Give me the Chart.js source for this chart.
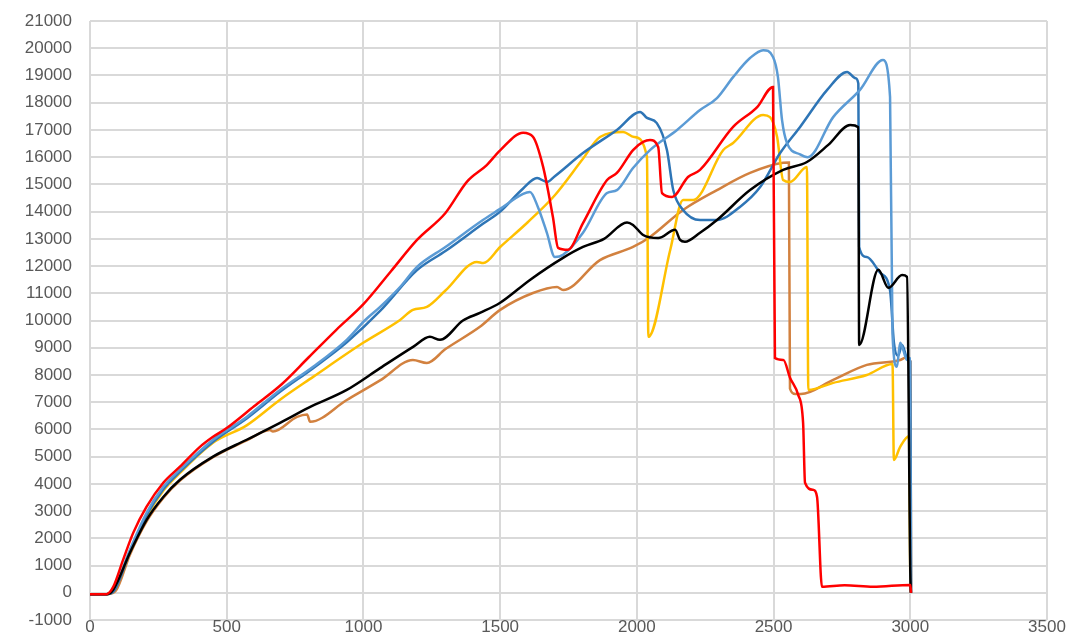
<!DOCTYPE html>
<html>
<head>
<meta charset="utf-8">
<script src="https://cdn.jsdelivr.net/npm/chart.js@4.4.1/dist/chart.umd.min.js"></script>
<style>
  body { margin: 0; background: #fff; }
  #wrap { width: 1075px; height: 639px; }
</style>
</head>
<body>
<div id="wrap"><canvas id="myChart" width="1075" height="639"></canvas></div>
<script>
// axis ticks
const xTicks = [0, 500, 1000, 1500, 2000, 2500, 3000, 3500];
const yMin = -1000, yMax = 21000, yStep = 1000;

// red series
const redX = [0, 60, 85, 121, 158, 207, 268, 329, 402, 450, 500, 600, 700, 800, 900, 1000, 1100, 1196, 1300, 1379, 1450, 1500, 1584, 1620, 1657, 1693, 1712, 1748, 1803, 1891, 1927, 1986, 2023, 2048, 2078, 2092, 2129, 2187, 2231, 2352, 2440, 2498, 2505, 2536, 2560, 2590, 2608, 2615, 2645, 2659, 2677, 2760, 2864, 3000, 3003];
const redY = [-50, -50, 220, 1210, 2200, 3160, 4040, 4630, 5360, 5730, 6050, 6850, 7650, 8650, 9650, 10600, 11800, 12960, 13950, 15100, 15700, 16250, 16900, 16750, 15650, 13800, 12670, 12600, 13580, 15160, 15420, 16260, 16560, 16630, 16370, 14680, 14540, 15270, 15530, 17110, 17840, 18580, 8620, 8550, 7900, 7270, 6240, 4040, 3780, 3520, 220, 280, 220, 290, 0];

// black series
const blackX = [0, 62, 85, 146, 207, 268, 329, 450, 573, 695, 800, 939, 1061, 1183, 1243, 1280, 1364, 1426, 1500, 1609, 1730, 1803, 1880, 1964, 1986, 2023, 2078, 2140, 2158, 2176, 2231, 2293, 2414, 2535, 2622, 2700, 2780, 2810, 2813, 2883, 2920, 2970, 2988, 3000, 3002];
const blackY = [-50, -50, 110, 1470, 2680, 3520, 4150, 5000, 5620, 6240, 6800, 7450, 8250, 9040, 9400, 9290, 10000, 10280, 10650, 11490, 12300, 12700, 13000, 13600, 13510, 13140, 13030, 13330, 12960, 12890, 13220, 13690, 14790, 15530, 15820, 16450, 17180, 17100, 9100, 11860, 11200, 11670, 11600, 800, 0];

// orange series
const orangeX = [0, 65, 95, 146, 207, 268, 329, 450, 573, 658, 669, 757, 794, 805, 939, 1061, 1181, 1232, 1300, 1426, 1500, 1620, 1708, 1730, 1865, 1986, 2048, 2169, 2293, 2414, 2535, 2556, 2560, 2580, 2600, 2718, 2841, 2963, 2988, 3000, 3003];
const orangeY = [-50, -50, 80, 1400, 2620, 3480, 4120, 4980, 5600, 5980, 5920, 6460, 6550, 6280, 7080, 7800, 8550, 8440, 8950, 9770, 10390, 11010, 11230, 11120, 12220, 12700, 13070, 14060, 14790, 15420, 15790, 15800, 7500, 7300, 7300, 7820, 8370, 8550, 8660, 8500, 0];

// yellow series
const yellowX = [0, 62, 90, 146, 207, 268, 329, 450, 573, 695, 816, 999, 1134, 1181, 1232, 1300, 1415, 1438, 1500, 1600, 1700, 1800, 1865, 1950, 1990, 2037, 2042, 2122, 2169, 2206, 2316, 2352, 2462, 2487, 2513, 2535, 2560, 2622, 2627, 2718, 2841, 2935, 2940, 2963, 2995, 3000, 3002];
const yellowY = [-50, -50, 150, 1500, 2800, 3750, 4400, 5510, 6150, 7090, 7930, 9180, 10020, 10390, 10500, 11100, 12150, 12110, 12700, 13600, 14600, 15900, 16740, 16920, 16740, 16010, 9400, 12590, 14430, 14430, 16260, 16520, 17550, 17470, 16740, 15160, 15090, 15640, 7450, 7710, 8000, 8400, 4880, 5360, 5750, 600, 0];

// light blue series
const lightBlueX = [0, 62, 88, 146, 207, 268, 329, 450, 573, 695, 816, 939, 1005, 1061, 1134, 1196, 1300, 1437, 1500, 1584, 1609, 1638, 1671, 1700, 1730, 1803, 1891, 1927, 1986, 2048, 2147, 2231, 2293, 2352, 2414, 2462, 2498, 2516, 2531, 2549, 2597, 2625, 2718, 2816, 2900, 2926, 2935, 2951, 2963, 2974, 2988, 2998, 3002];
const lightBlueY = [-50, -50, 150, 1580, 2940, 3890, 4520, 5620, 6460, 7450, 8300, 9290, 10000, 10500, 11230, 11970, 12700, 13690, 14100, 14650, 14720, 14170, 13220, 12330, 12410, 13220, 14680, 14790, 15600, 16260, 17000, 17730, 18170, 18940, 19640, 19930, 19680, 18940, 17360, 16520, 16100, 16000, 17470, 18470, 19570, 18210, 9500, 8300, 9180, 8920, 8550, 8600, 0];

// dark blue series
const darkBlueX = [0, 62, 90, 146, 207, 268, 329, 450, 573, 695, 816, 939, 1061, 1196, 1300, 1437, 1500, 1584, 1635, 1671, 1700, 1803, 1927, 2012, 2037, 2073, 2110, 2133, 2169, 2231, 2293, 2377, 2451, 2524, 2597, 2696, 2769, 2800, 2810, 2813, 2841, 2890, 2926, 2940, 2955, 2970, 2990, 3000, 3003];
const darkBlueY = [-50, -50, 100, 1500, 2850, 3800, 4450, 5550, 6400, 7380, 8250, 9200, 10350, 11850, 12550, 13550, 14000, 14850, 15230, 15090, 15300, 16150, 17000, 17660, 17440, 17250, 16260, 14790, 14060, 13690, 13690, 14170, 14900, 16150, 17110, 18470, 19130, 18900, 18700, 12700, 12330, 11750, 11100, 9200, 8700, 9100, 8600, 8500, 0];

function toPoints(xs, ys) {
  return xs.map((x, i) => ({ x: x, y: ys[i] }));
}

function line(data, color) {
  return {
    data: data,
    borderColor: color,
    backgroundColor: color,
    borderWidth: 2.5,
    pointRadius: 0,
    cubicInterpolationMode: 'monotone',
    fill: false
  };
}

const tickFont = { family: '"Liberation Sans", Arial, sans-serif', size: 17 };
const gridColor = '#d9d9d9';

new Chart(document.getElementById('myChart').getContext('2d'), {
  type: 'line',
  data: {
    datasets: [
      line(toPoints(redX, redY), '#ff0000'),
      line(toPoints(blackX, blackY), '#000000'),
      line(toPoints(lightBlueX, lightBlueY), '#5b9bd5'),
      line(toPoints(darkBlueX, darkBlueY), '#2e75b6'),
      line(toPoints(yellowX, yellowY), '#ffc000'),
      line(toPoints(orangeX, orangeY), '#d2813f')
    ]
  },
  options: {
    responsive: false,
    animation: false,
    layout: { padding: { left: 0, right: 28, top: 21, bottom: 0 } },
    plugins: { legend: { display: false }, tooltip: { enabled: false } },
    scales: {
      x: {
        type: 'linear',
        min: 0,
        max: 3500,
        afterBuildTicks: (axis) => { axis.ticks = xTicks.map(v => ({ value: v })); },
        afterFit: (axis) => { axis.height = 19; axis.paddingLeft = 0; axis.paddingRight = 0; },
        grid: { color: gridColor, lineWidth: 2, drawTicks: false },
        border: { display: false },
        ticks: { color: '#595959', font: tickFont, padding: -3, maxRotation: 0, callback: (v) => String(v) }
      },
      y: {
        min: yMin,
        max: yMax,
        afterFit: (axis) => { axis.width = 90; axis.paddingTop = 0; axis.paddingBottom = 0; },
        grid: { color: gridColor, lineWidth: 2, drawTicks: false },
        border: { display: false },
        ticks: { stepSize: yStep, color: '#595959', font: tickFont, padding: 18, callback: (v) => String(v) }
      }
    }
  }
});
</script>
</body>
</html>
